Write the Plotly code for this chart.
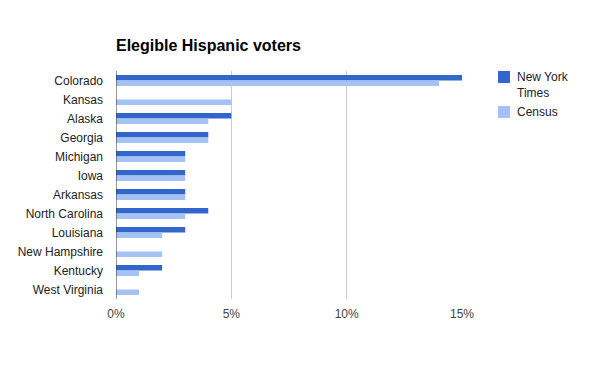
import plotly.graph_objects as go

states = ["Colorado", "Kansas", "Alaska", "Georgia", "Michigan", "Iowa", "Arkansas",
          "North Carolina", "Louisiana", "New Hampshire", "Kentucky", "West Virginia"]
nyt = [15, 0, 5, 4, 3, 3, 3, 4, 3, 0, 2, 0]
census = [14, 5, 4, 4, 3, 3, 3, 3, 2, 2, 1, 1]
series_names = ["New York<br>Times", "Census"]
series_colors = ["#3366cc", "#a4c2f4"]
x_ticks = [0, 5, 10, 15]
x_labels = ["0%", "5%", "10%", "15%"]

FONT = "Arial, Liberation Sans, sans-serif"
W, H = 600, 371
L, R, T, B = 116, 138, 71, 72
PW, PH = W - L - R, H - T - B

def px_x(px):
    return (px - L) / PW

def px_y(py):
    return 1 - (py - T) / PH

fig = go.Figure()
for name, vals, col in zip(series_names, [nyt, census], series_colors):
    fig.add_trace(go.Bar(y=states, x=vals, orientation="h", name=name,
                         marker=dict(color=col, line=dict(width=0)),
                         showlegend=False))

fig.update_layout(
    width=W, height=H,
    margin=dict(l=L, r=R, t=T, b=B, autoexpand=False),
    paper_bgcolor="white", plot_bgcolor="white",
    barmode="group", bargap=0.42, bargroupgap=0,
    font=dict(family=FONT, size=12, color="#222222"),
    title=dict(text="<b>Elegible Hispanic voters</b>", x=116/W, xanchor="left",
               y=1 - 45/H, yanchor="middle",
               font=dict(family=FONT, size=16, color="#000000")),
    showlegend=False,
    xaxis=dict(range=[0, 15], tickvals=x_ticks, ticktext=x_labels,
               showgrid=True, gridcolor="#cccccc", gridwidth=1,
               zeroline=False, showline=False, ticks="", automargin=False,
               ticklabelstandoff=6,
               tickfont=dict(color="#444444", size=12), fixedrange=True),
    yaxis=dict(autorange="reversed", showline=False, ticks="", automargin=False,
               ticklabelstandoff=12,
               tickfont=dict(color="#222222", size=12), fixedrange=True),
)
fig.add_shape(type="line", xref="x", yref="paper", x0=0, x1=0, y0=0, y1=1,
              line=dict(color="#333333", width=1))

# custom legend
legend_tops = [71, 106]
for name, col, top in zip(series_names, series_colors, legend_tops):
    fig.add_shape(type="rect", xref="paper", yref="paper",
                  x0=px_x(498), x1=px_x(510), y0=px_y(top), y1=px_y(top + 12),
                  fillcolor=col, line=dict(width=0))
    fig.add_annotation(text=name, xref="paper", yref="paper",
                       x=px_x(515), y=px_y(top - 3), xanchor="left", yanchor="top",
                       align="left", showarrow=False,
                       font=dict(family=FONT, size=12, color="#222222"))

fig.write_html("out.html", config={"displayModeBar": False},
               post_script="document.body.style.margin='0';")
